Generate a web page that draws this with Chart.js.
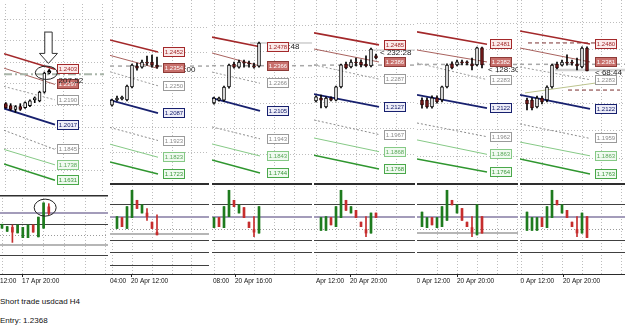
<!DOCTYPE html>
<html>
<head>
<meta charset="utf-8">
<title>Short trade usdcad H4</title>
<script src="https://cdn.jsdelivr.net/npm/chart.js@4.4.1/dist/chart.umd.min.js"></script>
<style>
  html, body { margin: 0; padding: 0; background: #fff; }
  body { position: relative; width: 625px; height: 328px; overflow: hidden; font-family: "Liberation Sans", Arial, sans-serif; }
  canvas { position: absolute; }
  .note { position: absolute; left: 0; font-size: 8px; line-height: 9px; color: #111; white-space: nowrap; }
  #axisLine { position: absolute; left: 0; top: 274px; width: 625px; height: 1px; background: #2a2a2a; }
</style>
</head>
<body>
<div id="axisLine"></div>
<div class="note" style="top:297px">Short trade usdcad H4</div>
<div class="note" id="entryNote" style="top:316px"></div>
<script>
// ---- data ----
const entryPrice = 1.2368;
const oscLevels = [77, 63, 50, 37, 24];

// candles are [open, high, low, close]; osc bars are [open, high, low, close] on 0..100
// band lines: start value at left edge, end value at the label (upper2, upper1, mid, basis, lower mid, lower1, lower2)

// panel 1 - 17 Apr
const p1Candles = [
  [1.2163, 1.2170, 1.2130, 1.2136], [1.2150, 1.2163, 1.2116, 1.2123], [1.2123, 1.2150, 1.2103, 1.2143],
  [1.2143, 1.2163, 1.2116, 1.2123], [1.2136, 1.2176, 1.2130, 1.2170], [1.2150, 1.2190, 1.2143, 1.2183],
  [1.2190, 1.2210, 1.2170, 1.2203], [1.2183, 1.2250, 1.2176, 1.2243], [1.2243, 1.2383, 1.2236, 1.2376],
  [1.2376, 1.2390, 1.2370, 1.2383]
];
const p1Osc = [
  [58, 63, 58, 63], [54, 60, 54, 60], [59, 62, 40, 53], [52, 62, 52, 62], [46, 59, 46, 59],
  [46, 62, 46, 62], [62, 62, 53, 53], [47, 72, 47, 72], [58, 90, 58, 90], [85, 89, 75, 77]
];
const p1BandStart = [1.2510, 1.2410, 1.2283, 1.2130, 1.1978, 1.1845, 1.1744];
const p1BandEnd = [1.2403, 1.2297, 1.2190, 1.2017, 1.1845, 1.1738, 1.1631];
const p1TimeBars = [-4.4, 3.85];
const p1TimeLabels = ['17 Apr 12:00', '17 Apr 20:00'];
const p1SignalBar = 9, p1SignalPrice = 1.2392;
const p1ArrowBar = 8.85, p1ArrowTip = 1.2443, p1ArrowTail = 1.2661;
const p1CircleBar = 8.4, p1CirclePrice = 1.2378, p1OscCircleBar = 8.3, p1OscCircleLevel = 84;

// panel 2 - 20 Apr 12:00
const p2Candles = [
  [1.2135, 1.2171, 1.2129, 1.2165], [1.2165, 1.2189, 1.2159, 1.2177], [1.2171, 1.2189, 1.2165, 1.2183],
  [1.2165, 1.2255, 1.2159, 1.2249], [1.2243, 1.2380, 1.2237, 1.2374], [1.2368, 1.2386, 1.2344, 1.2356],
  [1.2362, 1.2404, 1.2356, 1.2392], [1.2392, 1.2428, 1.2374, 1.2386], [1.2392, 1.2434, 1.2362, 1.2374],
  [1.2374, 1.2422, 1.2356, 1.2362]
];
const p2Osc = [
  null, [50, 63, 50, 63], [62, 62, 52, 52], [50, 74, 50, 74], [62, 92, 62, 92],
  [81, 81, 72, 72], [67, 76, 67, 76], [67, 72, 59, 63], [57, 57, 50, 50], [46, 65, 43, 43]
];
const p2BandStart = [1.2524, 1.2432, 1.2334, 1.2165, 1.2001, 1.1901, 1.1795];
const p2BandEnd = [1.2452, 1.2354, 1.2250, 1.2087, 1.1923, 1.1823, 1.1723];
const p2TimeBars = [-4.6, 3.8];
const p2TimeLabels = ['20 Apr 04:00', '20 Apr 12:00'];

// panel 3 - 20 Apr 16:00
const p3Candles = [
  [1.2151, 1.2186, 1.2145, 1.2180], [1.2168, 1.2186, 1.2162, 1.2180], [1.2168, 1.2250, 1.2162, 1.2244],
  [1.2244, 1.2378, 1.2238, 1.2372], [1.2378, 1.2389, 1.2354, 1.2360], [1.2360, 1.2401, 1.2354, 1.2389],
  [1.2389, 1.2401, 1.2360, 1.2383], [1.2383, 1.2395, 1.2360, 1.2378], [1.2366, 1.2383, 1.2354, 1.2360],
  [1.2366, 1.2505, 1.2360, 1.2500]
];
const p3Osc = [
  [51, 62, 51, 62], [62, 62, 52, 52], [51, 74, 51, 74], [63, 92, 63, 92], [81, 81, 74, 74],
  [67, 76, 67, 76], [73, 73, 62, 62], [57, 57, 51, 51], [49, 63, 41, 46], [45, 74, 45, 74]
];
const p3BandStart = [1.2534, 1.2442, 1.2331, 1.2180, 1.2012, 1.1913, 1.1820];
const p3BandEnd = [1.2478, 1.2366, 1.2266, 1.2105, 1.1943, 1.1843, 1.1744];
const p3TimeBars = [-4.4, 4.2];
const p3TimeLabels = ['20 Apr 08:00', '20 Apr 16:00'];
const p3BidPrice = 1.2500;

// panel 4 - 20 Apr 20:00
const p4Candles = [
  [1.2161, 1.2190, 1.2155, 1.2184], [1.2178, 1.2195, 1.2120, 1.2166], [1.2126, 1.2184, 1.2120, 1.2178],
  [1.2178, 1.2184, 1.2161, 1.2166], [1.2166, 1.2247, 1.2161, 1.2242], [1.2242, 1.2374, 1.2236, 1.2369],
  [1.2374, 1.2386, 1.2346, 1.2351], [1.2357, 1.2398, 1.2351, 1.2386], [1.2386, 1.2409, 1.2363, 1.2380],
  [1.2386, 1.2398, 1.2357, 1.2369], [1.2374, 1.2421, 1.2357, 1.2363], [1.2363, 1.2467, 1.2357, 1.2461],
  [1.2421, 1.2432, 1.2403, 1.2409]
];
const p4Osc = [
  null, [48, 62, 48, 62], [48, 63, 48, 63], [62, 62, 54, 54], [52, 74, 52, 74], [62, 92, 62, 92],
  [81, 81, 70, 70], [67, 74, 67, 74], [70, 70, 62, 62], [57, 57, 52, 52], [49, 63, 41, 45],
  [45, 67, 45, 67], [67, 67, 62, 62]
];
const p4BandStart = [1.2554, 1.2461, 1.2369, 1.2201, 1.2051, 1.1947, 1.1848];
const p4BandEnd = [1.2485, 1.2386, 1.2287, 1.2127, 1.1967, 1.1868, 1.1768];
const p4TimeBars = [-1.8, 6.8];
const p4TimeLabels = ['20 Apr 12:00', '20 Apr 20:00'];
const p4BidPrice = 1.2455;

// panel 5
const p5Candles = [
  [1.2168, 1.2180, 1.2123, 1.2140], [1.2168, 1.2180, 1.2123, 1.2129], [1.2129, 1.2191, 1.2123, 1.2180],
  [1.2180, 1.2191, 1.2151, 1.2157], [1.2168, 1.2247, 1.2157, 1.2242], [1.2242, 1.2371, 1.2236, 1.2365],
  [1.2371, 1.2382, 1.2343, 1.2348], [1.2365, 1.2393, 1.2360, 1.2382], [1.2382, 1.2393, 1.2365, 1.2376],
  [1.2382, 1.2388, 1.2365, 1.2376], [1.2371, 1.2404, 1.2337, 1.2360], [1.2365, 1.2466, 1.2360, 1.2461],
  [1.2461, 1.2466, 1.2348, 1.2365]
];
const p5Osc = [
  [52, 68, 52, 68], [51, 62, 51, 62], [62, 62, 54, 54], [51, 62, 51, 62], [52, 74, 52, 74],
  [59, 92, 59, 92], [81, 81, 76, 76], [67, 76, 67, 76], [72, 72, 59, 59], [57, 57, 52, 52],
  [51, 63, 41, 46], [43, 76, 43, 76], [63, 63, 45, 45]
];
const p5BandStart = [1.2551, 1.2449, 1.2376, 1.2197, 1.2039, 1.1944, 1.1837];
const p5BandEnd = [1.2481, 1.2382, 1.2283, 1.2122, 1.1962, 1.1863, 1.1764];
const p5TimeBars = [-1.8, 7.0];
const p5TimeLabels = ['20 Apr 12:00', '20 Apr 20:00'];

// panel 6
const p6Candles = [
  [1.2171, 1.2182, 1.2116, 1.2149], [1.2171, 1.2182, 1.2116, 1.2127], [1.2133, 1.2193, 1.2127, 1.2182],
  [1.2182, 1.2193, 1.2149, 1.2160], [1.2171, 1.2249, 1.2160, 1.2243], [1.2243, 1.2370, 1.2237, 1.2364],
  [1.2370, 1.2381, 1.2342, 1.2348], [1.2364, 1.2392, 1.2359, 1.2381], [1.2381, 1.2420, 1.2364, 1.2375],
  [1.2381, 1.2392, 1.2364, 1.2375], [1.2370, 1.2403, 1.2337, 1.2359], [1.2353, 1.2464, 1.2348, 1.2458],
  [1.2458, 1.2464, 1.2331, 1.2331]
];
const p6Osc = [
  [48, 68, 48, 68], [48, 62, 48, 62], [48, 62, 48, 62], [62, 62, 52, 52], [51, 74, 51, 74],
  [62, 92, 62, 92], [81, 81, 76, 76], [67, 76, 67, 76], [70, 70, 62, 62], [57, 57, 52, 52],
  [49, 63, 41, 45], [45, 67, 45, 67], [63, 63, 40, 40]
];
const p6BandStart = [1.2552, 1.2458, 1.2353, 1.2199, 1.2039, 1.1939, 1.1845];
const p6BandEnd = [1.2480, 1.2381, 1.2283, 1.2122, 1.1959, 1.1863, 1.1763];
const p6TimeBars = [-2.0, 7.2];
const p6TimeLabels = ['20 Apr 12:00', '20 Apr 20:00'];
const p6StopPrice = 1.2486, p6TargetPrice = 1.2226, p6BidPrice = 1.2337;
const p6Trend = [1.2210, 1.2265];

// ---- styles ----
Chart.defaults.font.family = '"Liberation Sans", Arial, sans-serif';
const gridColor = '#bdbdbd';
const bandStyle = [
  { line: '#a3282a', width: 1.6, dash: [], fill: '#fbeaea', box: '#a3282a', text: '#a3282a' },
  { line: '#a8625e', width: 1, dash: [], fill: '#c8706c', box: '#8e3b38', text: '#ffffff' },
  { line: '#9a9a9a', width: 1, dash: [2, 2], fill: '#ffffff', box: '#9a9a9a', text: '#8a8a8a' },
  { line: '#17206e', width: 1.8, dash: [], fill: '#eeeef8', box: '#17206e', text: '#17206e' },
  { line: '#8a8a8a', width: 1, dash: [2, 2], fill: '#ffffff', box: '#9a9a9a', text: '#8a8a8a' },
  { line: '#86c986', width: 1, dash: [], fill: '#f0faf0', box: '#86c986', text: '#5aa85a' },
  { line: '#2f962f', width: 1.5, dash: [], fill: '#f0faf0', box: '#4aa84a', text: '#3a983a' }
];
const levelStyles = {
  dark: { color: '#404040', width: 1, dash: [] },
  purple: { color: '#a39cba', width: 2, dash: [] },
  grey: { color: '#b6b6b6', width: 2, dash: [] },
  dot: { color: '#9a9a9a', width: 1, dash: [1, 2] }
};
const bullFill = '#ffffff', bearFill = '#7a1c1c';
const oscBull = '#1e7b1e', oscBear = '#c62d2d';

const panels = [
  { candles: p1Candles, osc: p1Osc, bandStart: p1BandStart, bandEnd: p1BandEnd, timeBars: p1TimeBars, timeLabels: p1TimeLabels,
    left: 0, width: 108, priceH: 195, firstPx: 2, barPx: 5.2, gridPhase: 0, yMin: 1.1556, yMax: 1.2856,
    bandTo: 10.2, labelAt: 10.6, entry: { color: '#a9b5a9', width: 2, dash: [8, 3, 2, 3] },
    timer: { text: '207:52', bar: 10.75, price: 1.2323, under: false },
    levelStyle: ['purple', 'dark', 'dot', 'grey', 'dark'], extraLevels: [], sepWidth: 1.5, extraLines: [], signal: true },
  { candles: p2Candles, osc: p2Osc, bandStart: p2BandStart, bandEnd: p2BandEnd, timeBars: p2TimeBars, timeLabels: p2TimeLabels,
    left: 110, width: 99, priceH: 183, firstPx: 2, barPx: 5, gridPhase: 0, yMin: 1.1669, yMax: 1.2763,
    bandTo: 9.2, labelAt: 10.2, entry: { color: '#a8a8a8', width: 1.5, dash: [4, 4] },
    timer: { text: '< 252:00', bar: 10.2, price: 1.2344, under: true },
    levelStyle: ['dark', 'purple', 'dot', 'dark', 'dark'],
    extraLevels: [{ v: 44, s: 'grey' }, { v: 10, s: 'dark' }], sepWidth: 2, extraLines: [] },
  { candles: p3Candles, osc: p3Osc, bandStart: p3BandStart, bandEnd: p3BandEnd, timeBars: p3TimeBars, timeLabels: p3TimeLabels,
    left: 212, width: 100, priceH: 183, firstPx: 2, barPx: 5, gridPhase: 0, yMin: 1.1686, yMax: 1.2750,
    bandTo: 9.2, labelAt: 10.6, entry: { color: '#a8a8a8', width: 1.5, dash: [4, 4] },
    timer: { text: '< 236:48', bar: 10.6, price: 1.2476, under: true },
    levelStyle: ['dark', 'purple', 'dot', 'dark', 'dark'], extraLevels: [], sepWidth: 2,
    extraLines: [{ from: 7.2, to: null, y0: p3BidPrice, y1: p3BidPrice, color: '#b4b4b4', width: 1, dash: [] }] },
  { candles: p4Candles, osc: p4Osc, bandStart: p4BandStart, bandEnd: p4BandEnd, timeBars: p4TimeBars, timeLabels: p4TimeLabels,
    left: 314, width: 101, priceH: 183, firstPx: 2, barPx: 5, gridPhase: 0, yMin: 1.1687, yMax: 1.2744,
    bandTo: 12.6, labelAt: 13.6, entry: { color: '#a8a8a8', width: 1.5, dash: [4, 4] },
    timer: { text: '< 232:28', bar: 12.6, price: 1.2438, under: false },
    levelStyle: ['dark', 'purple', 'dot', 'dark', 'dark'], extraLevels: [], sepWidth: 2,
    extraLines: [{ from: 10.8, to: null, y0: p4BidPrice, y1: p4BidPrice, color: '#c0c0c0', width: 1, dash: [] }] },
  { candles: p5Candles, osc: p5Osc, bandStart: p5BandStart, bandEnd: p5BandEnd, timeBars: p5TimeBars, timeLabels: p5TimeLabels,
    left: 417, width: 101, priceH: 183, firstPx: 5, barPx: 5, gridPhase: 3, yMin: 1.1702, yMax: 1.2730,
    bandTo: 13.0, labelAt: 13.6, entry: { color: '#a8a8a8', width: 1.5, dash: [4, 4] },
    timer: { text: '< 128:30', bar: 13.0, price: 1.2337, under: false },
    levelStyle: ['dark', 'purple', 'dot', 'dark', 'dark'], extraLevels: [{ v: 45, s: 'grey' }], sepWidth: 2, extraLines: [] },
  { candles: p6Candles, osc: p6Osc, bandStart: p6BandStart, bandEnd: p6BandEnd, timeBars: p6TimeBars, timeLabels: p6TimeLabels,
    left: 520, width: 105, priceH: 183, firstPx: 7, barPx: 5, gridPhase: 3, yMin: 1.1713, yMax: 1.2723,
    bandTo: 12.6, labelAt: 13.6, entry: { color: '#a8a8a8', width: 1.5, dash: [4, 4] },
    timer: { text: '< 68:44', bar: 13.4, price: 1.2320, under: false },
    levelStyle: ['dark', 'purple', 'dot', 'dark', 'dark'], extraLevels: [], sepWidth: 2,
    extraLines: [
      { from: 5.6, to: null, y0: p6BidPrice, y1: p6BidPrice, color: '#d2d2d2', width: 2.5, dash: [] },
      { from: -0.4, to: 13.8, y0: p6Trend[0], y1: p6Trend[1], color: '#bcc48e', width: 1, dash: [] },
      { from: 0.2, to: 14, y0: p6StopPrice, y1: p6StopPrice, color: '#7a3030', width: 1, dash: [4, 3] },
      { from: 8.2, to: 18.6, y0: p6TargetPrice, y1: p6TargetPrice, color: '#7a3030', width: 1, dash: [4, 3] }
    ] }
];

document.getElementById('entryNote').textContent = 'Entry: ' + entryPrice.toFixed(4);

// ---- helpers ----
function makeCanvas(left, top, w, h) {
  const c = document.createElement('canvas');
  c.width = w; c.height = h;
  c.style.left = left + 'px'; c.style.top = top + 'px';
  c.style.width = w + 'px'; c.style.height = h + 'px';
  document.body.appendChild(c);
  return c;
}

function lineDs(points, color, width, dash) {
  return { type: 'line', data: points, borderColor: color, borderWidth: width, borderDash: dash,
    pointRadius: 0, fill: false, tension: 0, order: 3 };
}

function gridTicks(phase) {
  return s => {
    const t = [];
    for (let v = phase - 40; v < s.max; v += 4) if (v > s.min + 0.05) t.push({ value: v });
    s.ticks = t;
  };
}

function innerTicks(s) {
  s.ticks = s.ticks.filter(t => t.value > s.min + 1e-6 && t.value < s.max - 1e-6);
}

function drawTimer(ctx, x, y, t) {
  ctx.font = '8px "Liberation Sans", Arial, sans-serif';
  ctx.textAlign = 'left';
  ctx.textBaseline = 'middle';
  ctx.fillStyle = '#1c1c1c';
  ctx.fillText(t.text, x.getPixelForValue(t.bar) + 1, y.getPixelForValue(t.price));
}

function pricePlugin(p) {
  return {
    id: 'priceDecor',
    afterDatasetsDraw(chart) {
      const { ctx, scales: { x, y } } = chart;
      ctx.save();
      ctx.setLineDash([]);
      if (p.timer.under) drawTimer(ctx, x, y, p.timer);

      // price labels at the end of each band line
      const lx = Math.round(x.getPixelForValue(p.labelAt)) + 0.5;
      ctx.font = '6px "Liberation Sans", Arial, sans-serif';
      ctx.textAlign = 'center';
      ctx.textBaseline = 'middle';
      p.bandEnd.forEach((v, k) => {
        const st = bandStyle[k];
        const cy = Math.round(y.getPixelForValue(v));
        ctx.fillStyle = st.fill;
        ctx.fillRect(lx, cy - 4.5, 21, 9);
        ctx.strokeStyle = st.box;
        ctx.lineWidth = 1;
        ctx.strokeRect(lx, cy - 4.5, 21, 9);
        ctx.fillStyle = st.text;
        ctx.fillText(v.toFixed(4), lx + 10.5, cy + 0.5);
      });

      if (!p.timer.under) drawTimer(ctx, x, y, p.timer);

      if (p.signal) {
        // hand-drawn arrow and circle on the signal candle
        const ax = x.getPixelForValue(p1ArrowBar);
        const ty = y.getPixelForValue(p1ArrowTip);
        const tl = y.getPixelForValue(p1ArrowTail);
        ctx.beginPath();
        ctx.moveTo(ax - 3.7, tl);
        ctx.lineTo(ax + 3.7, tl);
        ctx.lineTo(ax + 3.7, ty - 10);
        ctx.lineTo(ax + 9, ty - 10);
        ctx.lineTo(ax, ty);
        ctx.lineTo(ax - 9, ty - 10);
        ctx.lineTo(ax - 3.7, ty - 10);
        ctx.closePath();
        ctx.fillStyle = '#ffffff';
        ctx.fill();
        ctx.strokeStyle = '#333';
        ctx.lineWidth = 1;
        ctx.stroke();

        ctx.beginPath();
        ctx.ellipse(x.getPixelForValue(p1CircleBar), y.getPixelForValue(p1CirclePrice), 11, 6.7, 0, 0, Math.PI * 2);
        ctx.strokeStyle = '#222';
        ctx.stroke();
      }
      ctx.restore();
    }
  };
}

function oscPlugin(p) {
  return {
    id: 'oscDecor',
    beforeDatasetsDraw(chart) {
      const { ctx, chartArea: a, scales: { y } } = chart;
      ctx.save();
      const lv = oscLevels.map((v, k) => ({ v, s: p.levelStyle[k] })).concat(p.extraLevels);
      lv.forEach(({ v, s }) => {
        const st = levelStyles[s];
        const yy = Math.round(y.getPixelForValue(v)) + (st.width % 2 ? 0.5 : 0);
        ctx.beginPath();
        ctx.setLineDash(st.dash);
        ctx.strokeStyle = st.color;
        ctx.lineWidth = st.width;
        ctx.moveTo(a.left, yy);
        ctx.lineTo(a.right, yy);
        ctx.stroke();
      });
      ctx.setLineDash([]);
      ctx.strokeStyle = '#2e2e2e';
      ctx.lineWidth = p.sepWidth;
      ctx.beginPath();
      ctx.moveTo(a.left, a.top + p.sepWidth / 2);
      ctx.lineTo(a.right, a.top + p.sepWidth / 2);
      ctx.stroke();
      ctx.restore();
    },
    afterDatasetsDraw(chart) {
      if (!p.signal) return;
      const { ctx, scales: { x, y } } = chart;
      ctx.save();
      ctx.beginPath();
      ctx.ellipse(x.getPixelForValue(p1OscCircleBar), y.getPixelForValue(p1OscCircleLevel), 11, 8.5, 0, 0, Math.PI * 2);
      ctx.strokeStyle = '#222';
      ctx.lineWidth = 1;
      ctx.stroke();
      ctx.restore();
    }
  };
}

const baseOptions = {
  responsive: false,
  animation: false,
  events: [],
  devicePixelRatio: 1,
  layout: { padding: 0 },
  plugins: { legend: { display: false }, tooltip: { enabled: false } }
};

// ---- build the six screenshots ----
panels.forEach(p => {
  const xMin = -p.firstPx / p.barPx;
  const xMax = xMin + p.width / p.barPx;

  // price window
  const datasets = [];
  datasets.push(lineDs([{ x: xMin, y: entryPrice }, { x: xMax, y: entryPrice }], p.entry.color, p.entry.width, p.entry.dash));
  p.bandStart.forEach((v, k) => {
    const st = bandStyle[k];
    datasets.push(lineDs([{ x: xMin, y: v }, { x: p.bandTo, y: p.bandEnd[k] }], st.line, st.width, st.dash));
  });
  p.extraLines.forEach(l => {
    datasets.push(lineDs([{ x: l.from, y: l.y0 }, { x: l.to === null ? xMax : l.to, y: l.y1 }], l.color, l.width, l.dash));
  });
  datasets.push({
    type: 'bar', order: 2, grouped: false, barThickness: 1,
    data: p.candles.map((c, i) => ({ x: i, y: [c[2], c[1]] })),
    backgroundColor: '#000'
  });
  datasets.push({
    type: 'bar', order: 1, grouped: false, barThickness: 3, minBarLength: 1,
    borderWidth: 1, borderSkipped: false,
    data: p.candles.map((c, i) => ({ x: i, y: [c[0], c[3]], bull: c[3] >= c[0] })),
    backgroundColor: ctx => (ctx.raw && ctx.raw.bull ? bullFill : bearFill),
    borderColor: ctx => (ctx.raw && ctx.raw.bull ? '#000' : '#2a0606')
  });
  if (p.signal) {
    datasets.push({
      type: 'line', order: 0, showLine: false, data: [{ x: p1SignalBar, y: p1SignalPrice }],
      pointStyle: 'triangle', pointRadius: 2.6, pointBackgroundColor: '#000', pointBorderColor: '#000', borderWidth: 0
    });
  }

  new Chart(makeCanvas(p.left, 0, p.width, p.priceH), {
    type: 'bar',
    data: { datasets },
    options: Object.assign({}, baseOptions, {
      scales: {
        x: {
          type: 'linear', min: xMin, max: xMax, offset: false,
          ticks: { display: false }, afterBuildTicks: gridTicks(p.gridPhase),
          grid: { color: gridColor, drawTicks: false, offset: false },
          border: { display: false, dash: [1, 2] },
          afterFit: s => { s.height = 0; }
        },
        y: {
          type: 'linear', min: p.yMin, max: p.yMax,
          ticks: { display: false, stepSize: 0.015 }, afterBuildTicks: innerTicks,
          grid: { color: gridColor, drawTicks: false },
          border: { display: false, dash: [1, 2] },
          afterFit: s => { s.width = 0; }
        }
      }
    }),
    plugins: [pricePlugin(p)]
  });

  // oscillator window with the time axis
  const bars = p.osc.map((o, i) => (o ? { i, o } : null)).filter(Boolean);
  const oscColor = ctx => (ctx.raw && ctx.raw.bull ? oscBull : oscBear);
  new Chart(makeCanvas(p.left, p.priceH, p.width, 292 - p.priceH), {
    type: 'bar',
    data: {
      datasets: [
        { order: 2, grouped: false, barThickness: 1,
          data: bars.map(b => ({ x: b.i, y: [b.o[2], b.o[1]], bull: b.o[3] >= b.o[0] })),
          backgroundColor: oscColor },
        { order: 1, grouped: false, barThickness: 2, minBarLength: 1,
          data: bars.map(b => ({ x: b.i, y: [b.o[0], b.o[3]], bull: b.o[3] >= b.o[0] })),
          backgroundColor: oscColor }
      ]
    },
    options: Object.assign({}, baseOptions, {
      scales: {
        x: {
          type: 'linear', position: 'bottom', min: xMin, max: xMax, offset: false,
          afterBuildTicks: s => { s.ticks = p.timeBars.map(v => ({ value: v })); },
          ticks: {
            display: true, autoSkip: false, maxRotation: 0, minRotation: 0, align: 'start', padding: 0,
            color: '#111', font: { size: 6.5 }, callback: (v, i) => p.timeLabels[i]
          },
          grid: { drawOnChartArea: false, drawTicks: true, tickLength: 3, color: '#222', offset: false },
          border: { display: false },
          afterFit: s => { s.height = 18; s.paddingLeft = 0; s.paddingRight = 0; }
        },
        xg: {
          type: 'linear', position: 'bottom', min: xMin, max: xMax, offset: false,
          ticks: { display: false }, afterBuildTicks: gridTicks(p.gridPhase),
          grid: { color: gridColor, drawTicks: false, offset: false },
          border: { display: false, dash: [1, 2] },
          afterFit: s => { s.height = 0; }
        },
        y: { type: 'linear', min: 0, max: 100, display: false }
      }
    }),
    plugins: [oscPlugin(p)]
  });
});
</script>
</body>
</html>
